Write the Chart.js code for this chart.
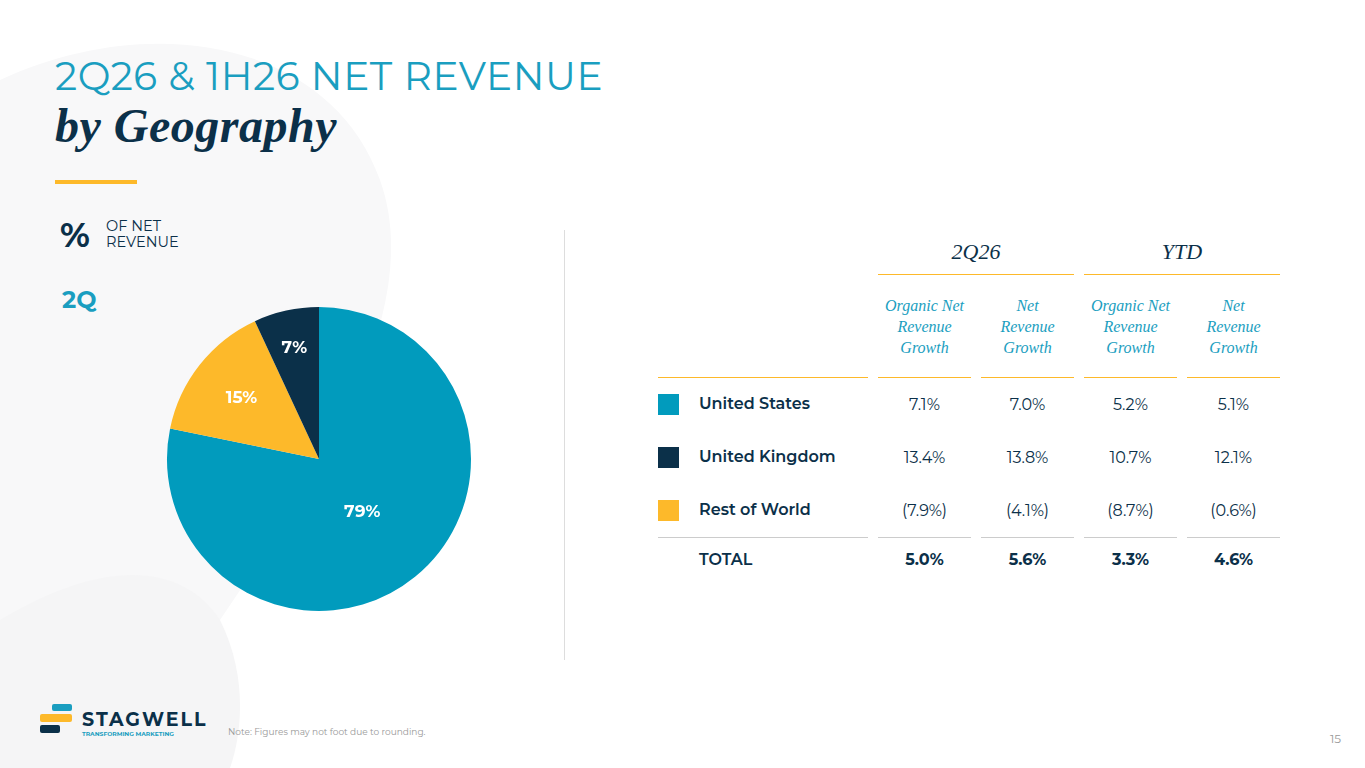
<!DOCTYPE html>
<html><head><meta charset="utf-8">
<script src="https://cdn.jsdelivr.net/npm/chart.js@4/dist/chart.umd.min.js"></script>
<style>
body{margin:0;width:1365px;height:768px;overflow:hidden;background:#fff;font-family:Montserrat,"Open Sans",sans-serif;position:relative}
.abs{position:absolute;line-height:1}
.t1{left:55px;top:57px;font-size:39px;color:#1a9ec0;letter-spacing:0.6px}
.t2{left:55px;top:102px;font-size:48px;color:#0b3049;font-family:"Liberation Serif",serif;font-style:italic;font-weight:bold;letter-spacing:0.5px}
.bar{left:55px;top:180px;width:82px;height:4px;background:#fdb92a}
.pct{left:60px;top:218px;font-size:34px;font-weight:bold;color:#0b3049}
.ofnet{left:106px;font-size:14.5px;color:#0b3049}
.q{left:62px;top:288px;font-size:24px;font-weight:bold;color:#1a9ec0}
.vline{left:564px;top:230px;width:1px;height:430px;background:#ddd}
table{position:absolute;left:648px;top:230px;border-collapse:separate;border-spacing:10px 0;color:#0b3049;font-size:16px}
td{text-align:center;padding:0}
.h{font-family:"Liberation Serif",serif;font-style:italic;font-size:22px;height:44px;border-bottom:1.5px solid #fdb92a}
.sub{font-family:"Liberation Serif",serif;font-style:italic;font-size:16px;color:#1a9ec0;line-height:21px;height:102px;border-bottom:1.5px solid #fdb92a}
.r td{height:53px}
.lab{text-align:left;font-weight:600}
.sw{display:inline-block;width:21px;height:21px;vertical-align:middle;margin-right:20px}
.tot td{border-top:1.5px solid #ccc;height:42px;font-weight:bold}
.tot td.lab{font-weight:600}
.note{left:228px;top:727px;font-size:9px;color:#999}
.pg{left:1330px;top:733px;font-size:12px;color:#999}
</style></head><body>
<svg class="abs" style="left:0;top:0" width="1365" height="768">
<path d="M0 80 C150 10 330 40 380 180 C430 320 300 500 220 620 L0 768 Z" fill="#f8f8f9"/>
<path d="M0 620 C100 560 180 560 220 620 C250 680 240 740 230 768 L0 768 Z" fill="#f5f5f6"/>
</svg>
<div class="abs t1">2Q26 &amp; 1H26 NET REVENUE</div>
<div class="abs t2">by Geography</div>
<div class="abs bar"></div>
<div class="abs pct">%</div>
<div class="abs ofnet" style="top:219px">OF NET</div>
<div class="abs ofnet" style="top:235px">REVENUE</div>
<div class="abs q">2Q</div>
<div class="abs vline"></div>
<div class="abs" style="left:161px;top:301px;width:316px;height:316px"><canvas id="c"></canvas></div>
<table>
<tr><td></td><td colspan="2" class="h">2Q26</td><td colspan="2" class="h">YTD</td></tr>
<tr><td class="sub" style="width:210px"></td><td class="sub" style="width:93px">Organic Net<br>Revenue<br>Growth</td><td class="sub" style="width:93px">Net<br>Revenue<br>Growth</td><td class="sub" style="width:93px">Organic Net<br>Revenue<br>Growth</td><td class="sub" style="width:93px">Net<br>Revenue<br>Growth</td></tr>
<tbody id="tb"></tbody>
</table>
<svg class="abs" style="left:40px;top:703px" width="40" height="34">
<rect x="12" y="1" width="20" height="7" rx="2" fill="#1a9ec0"/><rect x="0" y="11" width="32" height="8" rx="2" fill="#fdb92a"/><rect x="0" y="22" width="20" height="8" rx="2" fill="#0b3049"/>
</svg>
<div class="abs" style="left:82px;top:710px;font-size:19px;font-weight:bold;color:#0b3049;letter-spacing:2px">STAGWELL</div>
<div class="abs" style="left:82px;top:731px;font-size:6px;color:#1a9ec0;font-weight:bold">TRANSFORMING MARKETING</div>
<div class="abs note">Note: Figures may not foot due to rounding.</div>
<div class="abs pg">15</div>
<script>
const regions=["United States","United Kingdom","Rest of World"];
const shares=[79,15,7];
const colors=["#019bbd","#fdb92a","#0b3049"];
const organic2Q=["7.1%","13.4%","(7.9%)"];
const net2Q=["7.0%","13.8%","(4.1%)"];
const organicYTD=["5.2%","10.7%","(8.7%)"];
const netYTD=["5.1%","12.1%","(0.6%)"];
const totals=["5.0%","5.6%","3.3%","4.6%"];
const swatch=["#019bbd","#0b3049","#fdb92a"];
let h="";
regions.forEach((r,i)=>{h+=`<tr class="r"><td class="lab"><span class="sw" style="background:${swatch[i]}"></span>${r}</td><td>${organic2Q[i]}</td><td>${net2Q[i]}</td><td>${organicYTD[i]}</td><td>${netYTD[i]}</td></tr>`;});
h+=`<tr class="tot"><td class="lab" style="padding-left:41px">TOTAL</td>${totals.map(t=>`<td>${t}</td>`).join("")}</tr>`;
document.getElementById("tb").innerHTML=h;
const lbl={id:"lbl",afterDatasetsDraw(c){const ctx=c.ctx;const m=c.getDatasetMeta(0);ctx.save();ctx.font="bold 17px Montserrat, 'Open Sans', sans-serif";ctx.textAlign="center";ctx.textBaseline="middle";const fs=[0.45,0.65,0.75];m.data.forEach((a,i)=>{const ang=(a.startAngle+a.endAngle)/2;const x=a.x+Math.cos(ang)*a.outerRadius*fs[i],y=a.y+Math.sin(ang)*a.outerRadius*fs[i];ctx.fillStyle="#fff";ctx.fillText(c.data.datasets[0].data[i]+"%",x,y);});ctx.restore();}};
new Chart(document.getElementById("c"),{type:"pie",data:{labels:[regions[0],regions[2],regions[1]],datasets:[{data:[shares[0],shares[1],shares[2]],backgroundColor:colors,borderWidth:0}]},options:{responsive:true,maintainAspectRatio:true,animation:false,layout:{padding:6},plugins:{legend:{display:false},tooltip:{enabled:false}}},plugins:[lbl]});
</script>
</body></html>
